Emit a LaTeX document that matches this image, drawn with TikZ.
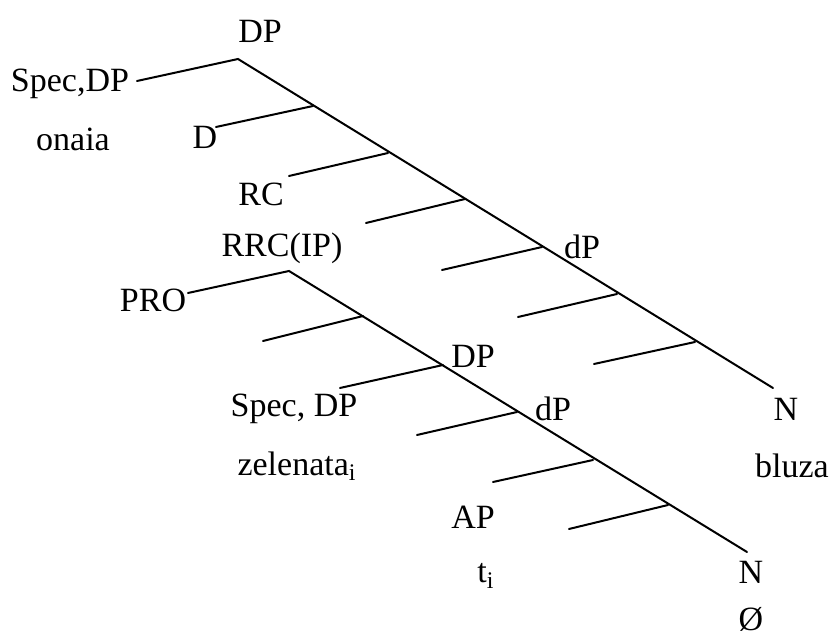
\documentclass[tikz,border=0pt]{standalone}
\usepackage{fontspec}
\setmainfont{Liberation Serif}
\begin{document}
\begin{tikzpicture}[x=0.5pt,y=-0.5pt,
  lbl/.style={inner sep=0pt,font=\fontsize{17}{20}\selectfont},
  edge/.style={line width=1pt,line cap=round}]
\useasboundingbox (0,0) rectangle (830,635);
% main spine points
\coordinate (a0) at (238,59);
\coordinate (a1) at (313,106);
\coordinate (a2) at (388,153);
\coordinate (a3) at (465,199);
\coordinate (a4) at (542,247);
\coordinate (a5) at (617,294);
\coordinate (a6) at (695,342);
\coordinate (a7) at (773,388);
% main branch left ends
\coordinate (s0) at (137,81);
\coordinate (l1) at (216,127);
\coordinate (l2) at (289,176);
\coordinate (l3) at (366,223);
\coordinate (l4) at (442,270);
\coordinate (l5) at (518,317);
\coordinate (l6) at (594,364);
% second spine points
\coordinate (b0) at (289,271);
\coordinate (b1) at (363,316);
\coordinate (b2) at (443,365);
\coordinate (b3) at (517,412);
\coordinate (b4) at (593,460);
\coordinate (b5) at (668,505);
\coordinate (b6) at (747,552);
\coordinate (t0) at (188,293);
\coordinate (m1) at (263,341);
\coordinate (m2) at (340,388);
\coordinate (m3) at (417,435);
\coordinate (m4) at (493,482);
\coordinate (m5) at (569,529);
% labels
\node[lbl] (dptop) at (260,31) {DP};
\node[lbl] (specdp) at (70,84) {Spec,DP};
\node[lbl] (onaia) at (73,139) {onaia};
\node[lbl] (d) at (205,137) {D};
\node[lbl] (rc) at (261,194) {RC};
\node[lbl] (rrc) at (282,248) {RRC(IP)};
\node[lbl] (pro) at (153,300) {PRO};
\node[lbl] (dp2) at (473,356) {DP};
\node[lbl] (dpsmall2) at (553,409) {dP};
\node[lbl] (specdp2) at (294,409) {Spec, DP};
\node[lbl] (zel) at (297,466) {zelenata\textsubscript{i}};
\node[lbl] (ap) at (473,517) {AP};
\node[lbl] (ti) at (486,576) {t\textsubscript{i}};
\node[lbl] (dpsmall1) at (582,247) {dP};
\node[lbl] (n1) at (786,409) {N};
\node[lbl] (bluza) at (792,466) {bluza};
\node[lbl] (n2) at (751,572) {N};
\node[lbl] (null) at (751,619) {Ø};
% main tree
\draw[edge] (s0) -- (a0) -- (a7);
\draw[edge] (l1) -- (a1);
\draw[edge] (l2) -- (a2);
\draw[edge] (l3) -- (a3);
\draw[edge] (l4) -- (a4);
\draw[edge] (l5) -- (a5);
\draw[edge] (l6) -- (a6);
% second tree
\draw[edge] (t0) -- (b0) -- (b6);
\draw[edge] (m1) -- (b1);
\draw[edge] (m2) -- (b2);
\draw[edge] (m3) -- (b3);
\draw[edge] (m4) -- (b4);
\draw[edge] (m5) -- (b5);
\end{tikzpicture}
\end{document}
